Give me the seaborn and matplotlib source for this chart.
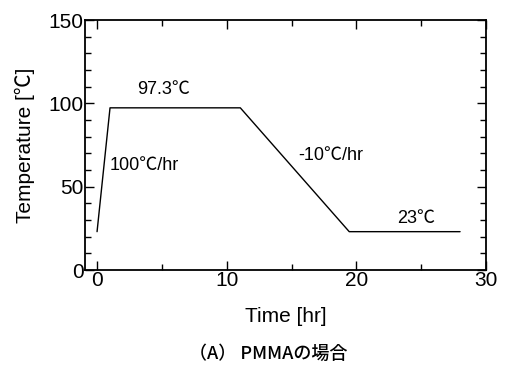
import matplotlib
matplotlib.use("Agg")
import matplotlib.pyplot as plt
import seaborn as sns
import pandas as pd
from matplotlib.ticker import MultipleLocator

time_hr = [0.0, 1.0, 11.05, 19.45, 28.0]
temp_c = [23.0, 97.3, 97.3, 23.0, 23.0]
labels = ["97.3℃", "100℃/hr", "-10℃/hr", "23℃"]
label_x = [5.1, 1.0, 15.5, 24.6]
label_y = [108, 63, 69, 31]

sns.set_style("ticks")
plt.rcParams['font.family'] = ['Liberation Sans', 'Noto Sans CJK JP', 'DejaVu Sans']
plt.rcParams['text.color'] = 'black'
plt.rcParams['axes.labelcolor'] = 'black'
plt.rcParams['xtick.color'] = 'black'
plt.rcParams['ytick.color'] = 'black'

fig = plt.figure(figsize=(5.06, 3.69), dpi=100)
ax = fig.add_axes([85/506, 1-270/369, (486-85)/506, 250/369])
df = pd.DataFrame({"t": time_hr, "T": temp_c})
sns.lineplot(data=df, x="t", y="T", ax=ax, color="black", linewidth=1.0, sort=False)

ax.set_xlim(-0.93, 30)
ax.set_ylim(0, 150)
ax.xaxis.set_major_locator(MultipleLocator(10))
ax.xaxis.set_minor_locator(MultipleLocator(5))
ax.yaxis.set_major_locator(MultipleLocator(50))
ax.yaxis.set_minor_locator(MultipleLocator(10))
ax.tick_params(which="both", direction="in", top=True, right=True, color="black",
               labelcolor="black", width=1)
ax.tick_params(which="major", length=6.5, labelsize=15, pad=1)
ax.tick_params(which="minor", length=4)
for s in ax.spines.values():
    s.set_linewidth(1.3)
    s.set_color("black")

ax.set_xlabel("Time [hr]", fontsize=15, labelpad=12, color="black")
ax.set_ylabel("Temperature [℃]", fontsize=15, labelpad=10, color="black")

ha = ["center", "left", "left", "center"]
for lab, x, y, h in zip(labels, label_x, label_y, ha):
    ax.text(x, y, lab, fontsize=13, ha=h, va="center", color="black")

fig.text(268/506, 1-354/369, "（A） PMMAの場合", fontsize=13, ha="center", va="center",
         fontweight="medium", color="black", family=['Noto Sans CJK JP', 'DejaVu Sans'])

fig.savefig("out.png", dpi=100, facecolor="white")
